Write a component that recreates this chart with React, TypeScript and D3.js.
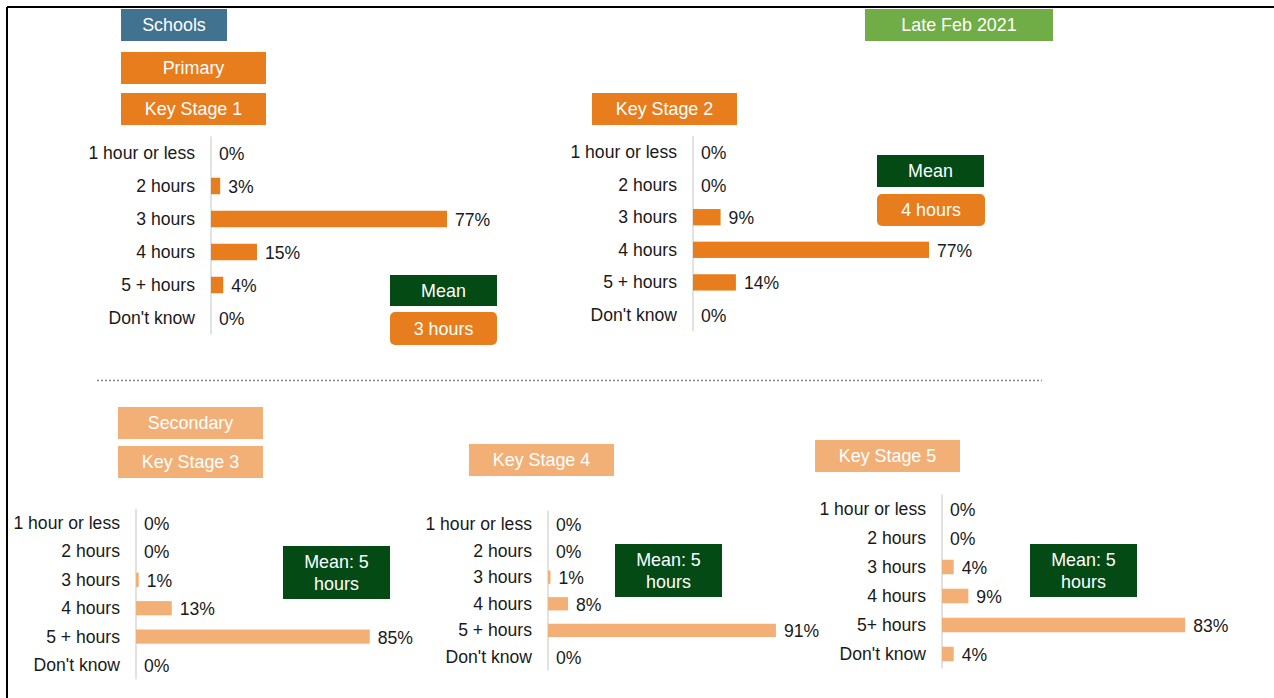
import React from 'react';
import * as d3 from 'd3';

const HOURS = ['1 hour or less', '2 hours', '3 hours', '4 hours', '5 + hours', "Don't know"];
const HOURS_KS5 = ['1 hour or less', '2 hours', '3 hours', '4 hours', '5+ hours', "Don't know"];

const KS1_VALUES = [0, 3, 77, 15, 4, 0];
const KS2_VALUES = [0, 0, 9, 77, 14, 0];
const KS3_VALUES = [0, 0, 1, 13, 85, 0];
const KS4_VALUES = [0, 0, 1, 8, 91, 0];
const KS5_VALUES = [0, 0, 4, 9, 83, 4];

const FONT = "'Liberation Sans', Arial, sans-serif";
const FS = 17.6;
const ORANGE = '#e87d1e';
const LIGHT = '#f2b077';
const DARK_GREEN = '#034a14';

// layout of each panel: axis x, first/last row centre, px per 100%
const PANELS = [
  { id: 'ks1', cats: HOURS, values: KS1_VALUES, color: ORANGE, x0: 211, yFirst: 153, yLast: 318, px100: 306.5 },
  { id: 'ks2', cats: HOURS, values: KS2_VALUES, color: ORANGE, x0: 693, yFirst: 152, yLast: 315, px100: 306.5 },
  { id: 'ks3', cats: HOURS, values: KS3_VALUES, color: LIGHT, x0: 136, yFirst: 523, yLast: 665, px100: 275 },
  { id: 'ks4', cats: HOURS, values: KS4_VALUES, color: LIGHT, x0: 548, yFirst: 524, yLast: 657, px100: 250.5 },
  { id: 'ks5', cats: HOURS_KS5, values: KS5_VALUES, color: LIGHT, x0: 942, yFirst: 509, yLast: 654, px100: 293 },
];

function Box({ x, y, w, h, fill, lines, rx = 0 }) {
  const lh = 22;
  const cy = y + h / 2;
  return (
    <g>
      <rect x={x} y={y} width={w} height={h} fill={fill} rx={rx} />
      {lines.map((t, i) => (
        <text key={i} x={x + w / 2} y={cy + (i - (lines.length - 1) / 2) * lh} textAnchor="middle"
          dominantBaseline="central" fill="#ffffff" fontSize={FS + 0.3} fontFamily={FONT}>{t}</text>
      ))}
    </g>
  );
}

function Panel({ cats, values, color, x0, yFirst, yLast, px100 }) {
  const step = (yLast - yFirst) / (cats.length - 1);
  const y = d3.scaleBand().domain(cats).range([yFirst - step / 2, yLast + step / 2]).paddingInner(0.5).paddingOuter(0.25);
  const x = d3.scaleLinear().domain([0, 100]).range([x0, x0 + px100]);
  const [top, bottom] = y.range();
  return (
    <g>
      <line x1={x0} x2={x0} y1={top} y2={bottom} stroke="#d9d9d9" strokeWidth={1.5} />
      {cats.map((c, i) => {
        const v = values[i];
        const cy = y(c) + y.bandwidth() / 2;
        return (
          <g key={c}>
            <text x={x0 - 16} y={cy} textAnchor="end" dominantBaseline="central" fontSize={FS} fontFamily={FONT} fill="#1a1a1a">{c}</text>
            {v > 0 && <rect x={x(0)} y={y(c)} width={x(v) - x(0)} height={y.bandwidth()} fill={color} />}
            <text x={x(v) + 8} y={cy + 1} dominantBaseline="central" fontSize={FS} fontFamily={FONT} fill="#1a1a1a">{v}%</text>
          </g>
        );
      })}
    </g>
  );
}

export default function App() {
  return (
    <div style={{ position: 'absolute', left: 0, top: 0 }}>
      <svg width={1274} height={698} style={{ display: 'block', background: '#ffffff' }}>
        <line x1={7} x2={1274} y1={7} y2={7} stroke="#000" strokeWidth={2} />
        <line x1={7} x2={7} y1={7} y2={698} stroke="#000" strokeWidth={2} />

        <Box x={121} y={9} w={106} h={32} fill="#41728f" lines={['Schools']} />
        <Box x={865} y={9} w={188} h={32} fill="#70ad47" lines={['Late Feb 2021']} />
        <Box x={121} y={52} w={145} h={32} fill={ORANGE} lines={['Primary']} />
        <Box x={121} y={93} w={145} h={32} fill={ORANGE} lines={['Key Stage 1']} />
        <Box x={592} y={93} w={145} h={32} fill={ORANGE} lines={['Key Stage 2']} />

        <Box x={118} y={407} w={145} h={32} fill={LIGHT} lines={['Secondary']} />
        <Box x={118} y={446} w={145} h={32} fill={LIGHT} lines={['Key Stage 3']} />
        <Box x={469} y={444} w={145} h={32} fill={LIGHT} lines={['Key Stage 4']} />
        <Box x={815} y={440} w={145} h={32} fill={LIGHT} lines={['Key Stage 5']} />

        {PANELS.map(p => <Panel key={p.id} {...p} />)}

        <Box x={390} y={275} w={107} h={31} fill={DARK_GREEN} lines={['Mean']} />
        <Box x={390} y={312} w={107} h={33} fill={ORANGE} rx={5} lines={['3 hours']} />
        <Box x={877} y={155} w={107} h={32} fill={DARK_GREEN} lines={['Mean']} />
        <Box x={877} y={194} w={108} h={32} fill={ORANGE} rx={5} lines={['4 hours']} />

        <Box x={283} y={546} w={107} h={53} fill={DARK_GREEN} lines={['Mean: 5', 'hours']} />
        <Box x={615} y={544} w={107} h={53} fill={DARK_GREEN} lines={['Mean: 5', 'hours']} />
        <Box x={1030} y={544} w={107} h={53} fill={DARK_GREEN} lines={['Mean: 5', 'hours']} />

        <line x1={97} x2={1042} y1={380.5} y2={380.5} stroke="#7f7f7f" strokeWidth={1.5} strokeDasharray="2,2" />
      </svg>
    </div>
  );
}
